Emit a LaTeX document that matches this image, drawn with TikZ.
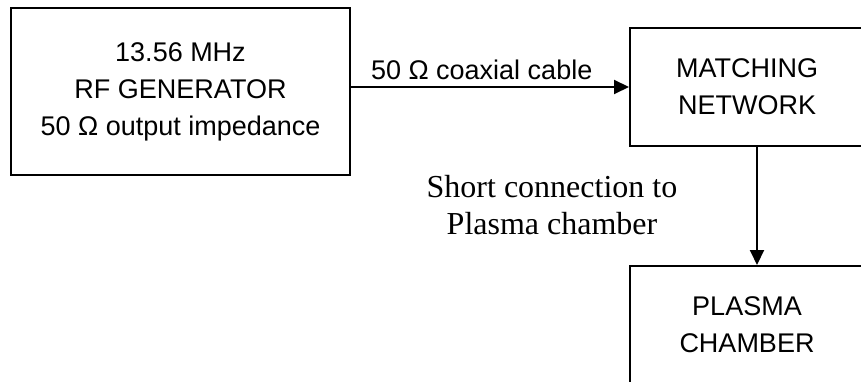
\documentclass[tikz,border=0pt]{standalone}
\usepackage{fontspec}
\setmainfont{Liberation Serif}
\newfontfamily\boxfont{Liberation Sans}
\usetikzlibrary{arrows.meta}

\begin{document}
\begin{tikzpicture}[x=1pt, y=-1pt,
		block/.style={draw, line width=2pt, align=center, inner sep=0pt,
			font=\boxfont\fontsize{27}{37}\selectfont},
		feed/.style={line width=2pt, -{Triangle[length=15pt, width=14pt]}}]
				\useasboundingbox (0,0) rectangle (861,382);
				\node[block, minimum width=339pt, minimum height=167pt] (gen)   at (180.5, 91.5) {13.56 MHz\\RF GENERATOR\\50 Ω output impedance};
				\node[block, minimum width=234pt, minimum height=118pt] (match) at (747, 87) {MATCHING\\NETWORK};
				\node[block, minimum width=234pt, minimum height=118pt] (plasma) at (747, 325) {PLASMA\\CHAMBER};
				\node[align=center, font=\fontsize{32}{37}\selectfont] (short) at (552, 205) {Short connection to\\Plasma chamber};
				\begin{scope}[]
					\draw[feed] (gen.east |- match.west) -- node[pos=0.47, above=3pt, font=\boxfont\fontsize{27}{30}\selectfont] (cable) {50 Ω coaxial cable} (match.west);
					\draw[feed] ([xshift=10pt]match.south) -- ([xshift=10pt]plasma.north);
				\end{scope}
			\end{tikzpicture}
\end{document}
